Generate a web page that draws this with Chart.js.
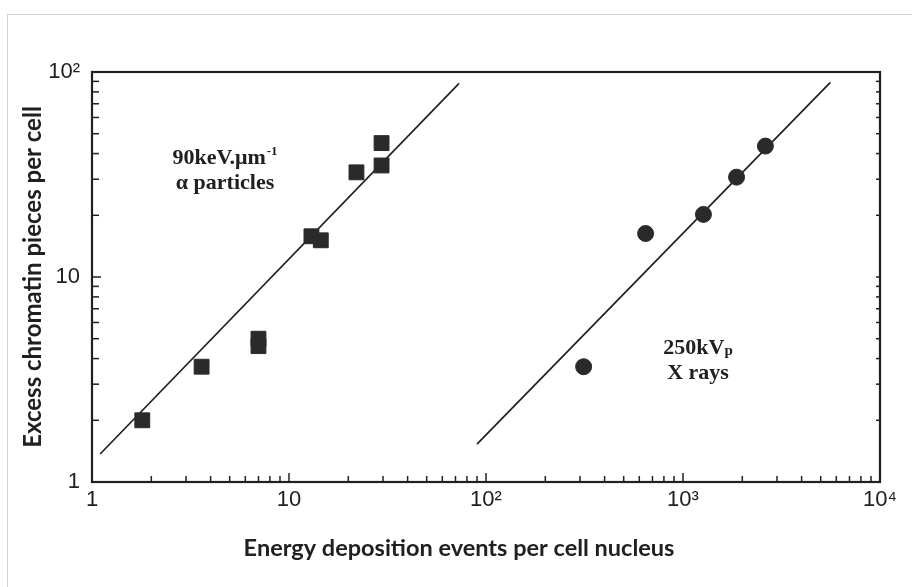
<!DOCTYPE html>
<html lang="en">
<head>
  <meta charset="UTF-8">
  <title>Chromatin pieces vs energy deposition events</title>
  <style>
    html, body {
      margin: 0;
      padding: 0;
      background: #ffffff;
    }
    #frame {
      position: absolute;
      left: 7px;
      top: 14px;
      width: 920px;
      height: 600px;
      border-top: 1px solid #d4d4d4;
      border-left: 1px solid #d4d4d4;
    }
    #chartContainer {
      position: relative;
      width: 912px;
      height: 587px;
    }
  </style>
  <script src="https://cdn.jsdelivr.net/npm/chart.js"></script>
</head>
<body>
  <div id="frame"></div>
  <div id="chartContainer">
    <canvas id="chartCanvas"></canvas>
  </div>

  <script>
    // Alpha particle measurements (squares)
    const alphaX = [1.8, 3.6, 7.0, 7.0, 13, 14.5, 22, 29.5, 29.5];
    const alphaY = [2.0, 3.65, 5.0, 4.6, 15.8, 15.1, 32.4, 45, 35];

    // X-ray measurements (circles)
    const xrayX = [313, 646, 1270, 1870, 2620];
    const xrayY = [3.65, 16.3, 20.2, 30.7, 43.5];

    // Fitted lines (end points)
    const alphaFitX = [1.1, 73];
    const alphaFitY = [1.37, 88];
    const xrayFitX = [90, 5600];
    const xrayFitY = [1.53, 89];

    // Axis ticks
    const xTicks = [1, 10, 100, 1000, 10000];
    const xTickLabels = ['1', '10', '10²', '10³', '10⁴'];
    const yTicks = [1, 10, 100];
    const yTickLabels = ['1', '10', '10²'];

    const ink = '#202020';
    const tickFont = '"Liberation Sans Narrow", "Liberation Sans", Arial, sans-serif';
    const titleFont = 'Lato, "Open Sans", sans-serif';

    function toPoints(xs, ys) {
      return xs.map((x, i) => ({ x: x, y: ys[i] }));
    }

    // frame around the plot plus inward minor/major ticks, and the text notes
    const decorPlugin = {
      id: 'decor',
      afterDraw(chart) {
        const ctx = chart.ctx;
        const a = chart.chartArea;
        const xs = chart.scales.x;
        const ys = chart.scales.y;
        ctx.save();
        ctx.strokeStyle = ink;
        ctx.lineWidth = 1.5;

        // bottom axis ticks pointing up
        for (let d = 0; d < 4; d++) {
          for (let m = 1; m <= 9; m++) {
            const px = xs.getPixelForValue(m * Math.pow(10, d));
            const len = m === 1 ? 9 : 6;
            ctx.beginPath();
            ctx.moveTo(px, a.bottom);
            ctx.lineTo(px, a.bottom - len);
            ctx.stroke();
          }
        }
        // left axis ticks pointing right, right axis ticks pointing left
        for (let d = 0; d < 2; d++) {
          for (let m = 1; m <= 9; m++) {
            const py = ys.getPixelForValue(m * Math.pow(10, d));
            const len = m === 1 ? 9 : 7;
            ctx.beginPath();
            ctx.moveTo(a.left, py);
            ctx.lineTo(a.left + len, py);
            ctx.stroke();
            ctx.beginPath();
            ctx.moveTo(a.right, py);
            ctx.lineTo(a.right - 4, py);
            ctx.stroke();
          }
        }

        // plot frame
        ctx.lineWidth = 2.2;
        ctx.strokeRect(a.left, a.top, a.right - a.left, a.bottom - a.top);

        ctx.fillStyle = ink;
        ctx.textBaseline = 'alphabetic';

        // x axis title (sits a bit left of the plot centre in the original)
        ctx.font = 'bold 23.5px ' + titleFont;
        ctx.textAlign = 'center';
        ctx.fillText('Energy deposition events per cell nucleus', 459, 556);

        // text notes
        const big = 'bold 22px "Liberation Serif", serif';
        const small = 'bold 13px "Liberation Serif", serif';

        ctx.font = big;
        const t1 = '90keV.μm';
        const w1 = ctx.measureText(t1).width;
        ctx.font = small;
        const s1 = '-1';
        const ws1 = ctx.measureText(s1).width;
        let x0 = 225 - (w1 + ws1 + 1) / 2;
        ctx.font = big;
        ctx.textAlign = 'left';
        ctx.fillText(t1, x0, 164);
        ctx.font = small;
        ctx.fillText(s1, x0 + w1 + 1, 155);
        ctx.font = big;
        ctx.textAlign = 'center';
        ctx.fillText('α particles', 225, 189);

        const t2 = '250kV';
        const w2 = ctx.measureText(t2).width;
        ctx.font = 'bold 15px "Liberation Serif", serif';
        const wp = ctx.measureText('p').width;
        x0 = 698 - (w2 + wp) / 2;
        ctx.textAlign = 'left';
        ctx.font = big;
        ctx.fillText(t2, x0, 354);
        ctx.font = 'bold 15px "Liberation Serif", serif';
        ctx.fillText('p', x0 + w2, 355);
        ctx.font = big;
        ctx.textAlign = 'center';
        ctx.fillText('X rays', 698, 379);

        ctx.restore();
      }
    };

    window.onload = () => {
      const ctx = document.getElementById('chartCanvas').getContext('2d');

      new Chart(ctx, {
        type: 'scatter',
        data: {
          datasets: [
            {
              label: '90keV alpha particles',
              data: toPoints(alphaX, alphaY),
              pointStyle: 'rect',
              pointRadius: 10.5,
              backgroundColor: '#2a2a2a',
              borderColor: '#2a2a2a',
              borderWidth: 1
            },
            {
              label: '250kVp X rays',
              data: toPoints(xrayX, xrayY),
              pointStyle: 'circle',
              pointRadius: 8,
              backgroundColor: '#2a2a2a',
              borderColor: '#2a2a2a',
              borderWidth: 1
            },
            {
              label: 'alpha fit',
              data: toPoints(alphaFitX, alphaFitY),
              showLine: true,
              pointRadius: 0,
              borderColor: ink,
              borderWidth: 1.7
            },
            {
              label: 'x-ray fit',
              data: toPoints(xrayFitX, xrayFitY),
              showLine: true,
              pointRadius: 0,
              borderColor: ink,
              borderWidth: 1.7
            }
          ]
        },
        plugins: [decorPlugin],
        options: {
          responsive: true,
          maintainAspectRatio: false,
          animation: false,
          layout: {
            padding: { top: 72, right: 32, left: 0, bottom: 0 }
          },
          plugins: {
            legend: { display: false },
            tooltip: { enabled: false }
          },
          scales: {
            x: {
              type: 'logarithmic',
              min: 1,
              max: 10000,
              afterBuildTicks: (scale) => {
                scale.ticks = xTicks.map(v => ({ value: v }));
              },
              afterFit: (scale) => { scale.height = 105; },
              grid: { display: false, drawTicks: false },
              border: { display: false },
              ticks: {
                autoSkip: false,
                maxRotation: 0,
                padding: 5,
                color: ink,
                font: { family: tickFont, size: 22 },
                callback: (value) => {
                  const i = xTicks.indexOf(value);
                  return i >= 0 ? xTickLabels[i] : '';
                }
              }
            },
            y: {
              type: 'logarithmic',
              min: 1,
              max: 100,
              afterBuildTicks: (scale) => {
                scale.ticks = yTicks.map(v => ({ value: v }));
              },
              afterFit: (scale) => { scale.width = 92; },
              grid: { display: false, drawTicks: false },
              border: { display: false },
              ticks: {
                autoSkip: false,
                padding: 12,
                color: ink,
                font: { family: tickFont, size: 22 },
                callback: (value) => {
                  const i = yTicks.indexOf(value);
                  return i >= 0 ? yTickLabels[i] : '';
                }
              },
              title: {
                display: true,
                text: 'Excess chromatin pieces per cell',
                color: ink,
                font: { family: titleFont, size: 24, weight: 'bold' },
                padding: { top: 19, bottom: 0 }
              }
            }
          }
        }
      });
    };
  </script>
</body>
</html>
